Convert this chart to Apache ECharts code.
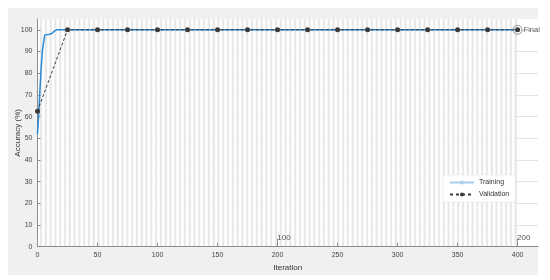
<!DOCTYPE html>
<html>
<head>
<meta charset="utf-8">
<script src="https://cdn.jsdelivr.net/npm/echarts@6/dist/echarts.min.js"></script>
<style>
  html, body { margin: 0; padding: 0; background: #fff; }
  #chart { width: 550px; height: 280px; }
</style>
</head>
<body>
<div id="chart"></div>
<script>
// training accuracy
const trainIter = [0, 1, 2, 3, 4, 5, 6, 8, 10, 12, 13, 14, 15, 16, 400]
const trainAcc = [52, 61, 72, 82, 90, 94, 97.5, 97.8, 98, 98.3, 98.8, 99.4, 100, 100, 100]

// validation every 25 iterations
const valIter = [0, 25, 50, 75, 100, 125, 150, 175, 200, 225, 250, 275, 300, 325, 350, 375, 400]
const valAcc = [62.5, 100, 100, 100, 100, 100, 100, 100, 100, 100, 100, 100, 100, 100, 100, 100, 100]

const finalIter = [400]
const finalAcc = [100]

const itersPerEpoch = 2
const maxIter = 400
const xTicks = [0, 50, 100, 150, 200, 250, 300, 350, 400]
const yTicks = [0, 10, 20, 30, 40, 50, 60, 70, 80, 90, 100]

const font = '"Liberation Sans Narrow", "Liberation Sans", Arial, sans-serif'
const zip = (a, b) => a.map((v, i) => [v, b[i]])

const chart = echarts.init(document.getElementById('chart'))

const option = {
  animation: false,
  textStyle: { fontFamily: font },
  graphic: [{
    type: 'rect',
    z: -10,
    shape: { x: 8, y: 8, width: 530, height: 267 },
    style: { fill: '#f0f0f0' }
  }],
  grid: [
    // epoch stripes (0..400)
    { left: 37.5, top: 19, width: 479.5, height: 227.7, outerBoundsMode: 'none', containLabel: false },
    // main plot
    { left: 37.5, top: 19, width: 500.5, height: 227.7, outerBoundsMode: 'none', containLabel: false,
      show: true, backgroundColor: '#fff', borderWidth: 0 }
  ],
  legend: {
    orient: 'vertical',
    left: 443,
    top: 175,
    backgroundColor: '#fff',
    borderColor: '#e0e0e0',
    borderWidth: 0.5,
    padding: [4, 6, 4, 6],
    itemWidth: 24,
    itemHeight: 5,
    itemGap: 5,
    textStyle: { fontSize: 7, color: '#333', fontFamily: font },
    data: [
      { name: 'Training', itemStyle: { color: '#a9cdec' }, lineStyle: { color: '#a9cdec' } },
      { name: 'Validation', lineStyle: { type: [3, 3] } }
    ]
  },
  xAxis: [
    {
      gridIndex: 0, type: 'value', min: 0, max: maxIter, interval: itersPerEpoch,
      axisLine: { show: false }, axisTick: { show: false }, axisLabel: { show: false },
      splitLine: { show: false },
      splitArea: { show: true, areaStyle: { color: ['#ffffff', '#e9e9e9'] } }
    },
    {
      gridIndex: 0, type: 'value', position: 'bottom', min: 0, max: maxIter, interval: 100 * itersPerEpoch,
      axisLine: { show: false },
      axisTick: { show: true, inside: true, length: 8, lineStyle: { color: '#999' } },
      axisLabel: {
        inside: true, align: 'left', margin: 5, fontSize: 8, color: '#555',
        formatter: v => v === 0 ? '' : String(v / itersPerEpoch)
      },
      splitLine: { show: false }
    },
    {
      gridIndex: 1, type: 'value', min: 0, max: 417, interval: 50,
      name: 'Iteration', nameLocation: 'middle', nameGap: 16,
      nameTextStyle: { fontSize: 8, color: '#333' },
      axisLine: { lineStyle: { color: '#8c8c8c' } },
      axisTick: { inside: true, length: 4, lineStyle: { color: '#8c8c8c' } },
      axisLabel: { fontSize: 7, color: '#444', margin: 5, showMaxLabel: false,
        formatter: v => xTicks.includes(v) ? String(v) : '' },
      splitLine: { show: false }
    }
  ],
  yAxis: [
    { gridIndex: 0, type: 'value', min: 0, max: 105, show: false },
    {
      gridIndex: 1, type: 'value', min: 0, max: 105, interval: 10,
      name: 'Accuracy (%)', nameLocation: 'middle', nameGap: 16, nameRotate: 90,
      nameMoveOverlap: false,
      nameTextStyle: { fontSize: 8, color: '#333' },
      axisLine: { show: true, lineStyle: { color: '#8c8c8c' } },
      axisTick: { show: true, inside: true, length: 3, lineStyle: { color: '#8c8c8c' } },
      axisLabel: { fontSize: 7, color: '#444', margin: 5, showMaxLabel: false,
        formatter: v => yTicks.includes(v) ? String(v) : '' },
      splitLine: { show: true, showMaxLine: false, lineStyle: { color: '#e2e2e2', width: 1 } }
    }
  ],
  series: [
    {
      name: 'Training', type: 'line', xAxisIndex: 2, yAxisIndex: 1,
      data: zip(trainIter, trainAcc),
      symbol: 'none',
      lineStyle: { color: '#2a88d4', width: 1.5 },
      itemStyle: { color: '#2a88d4' },
      z: 3
    },
    {
      name: 'Validation', type: 'line', xAxisIndex: 2, yAxisIndex: 1,
      data: zip(valIter, valAcc),
      symbol: 'circle', symbolSize: 5,
      lineStyle: { color: '#3a3a3a', width: 1, type: [3, 2] },
      itemStyle: { color: '#3a3a3a' },
      z: 4
    },
    {
      name: 'Final', type: 'scatter', xAxisIndex: 2, yAxisIndex: 1,
      data: zip(finalIter, finalAcc),
      symbol: 'circle', symbolSize: 9,
      itemStyle: { color: 'rgba(0,0,0,0)', borderColor: '#777', borderWidth: 1 },
      label: { show: true, position: 'right', distance: 1, formatter: 'Final', fontSize: 7.5, color: '#333' },
      z: 5
    }
  ]
}

chart.setOption(option)
window.addEventListener('resize', () => chart.resize())
</script>
</body>
</html>
